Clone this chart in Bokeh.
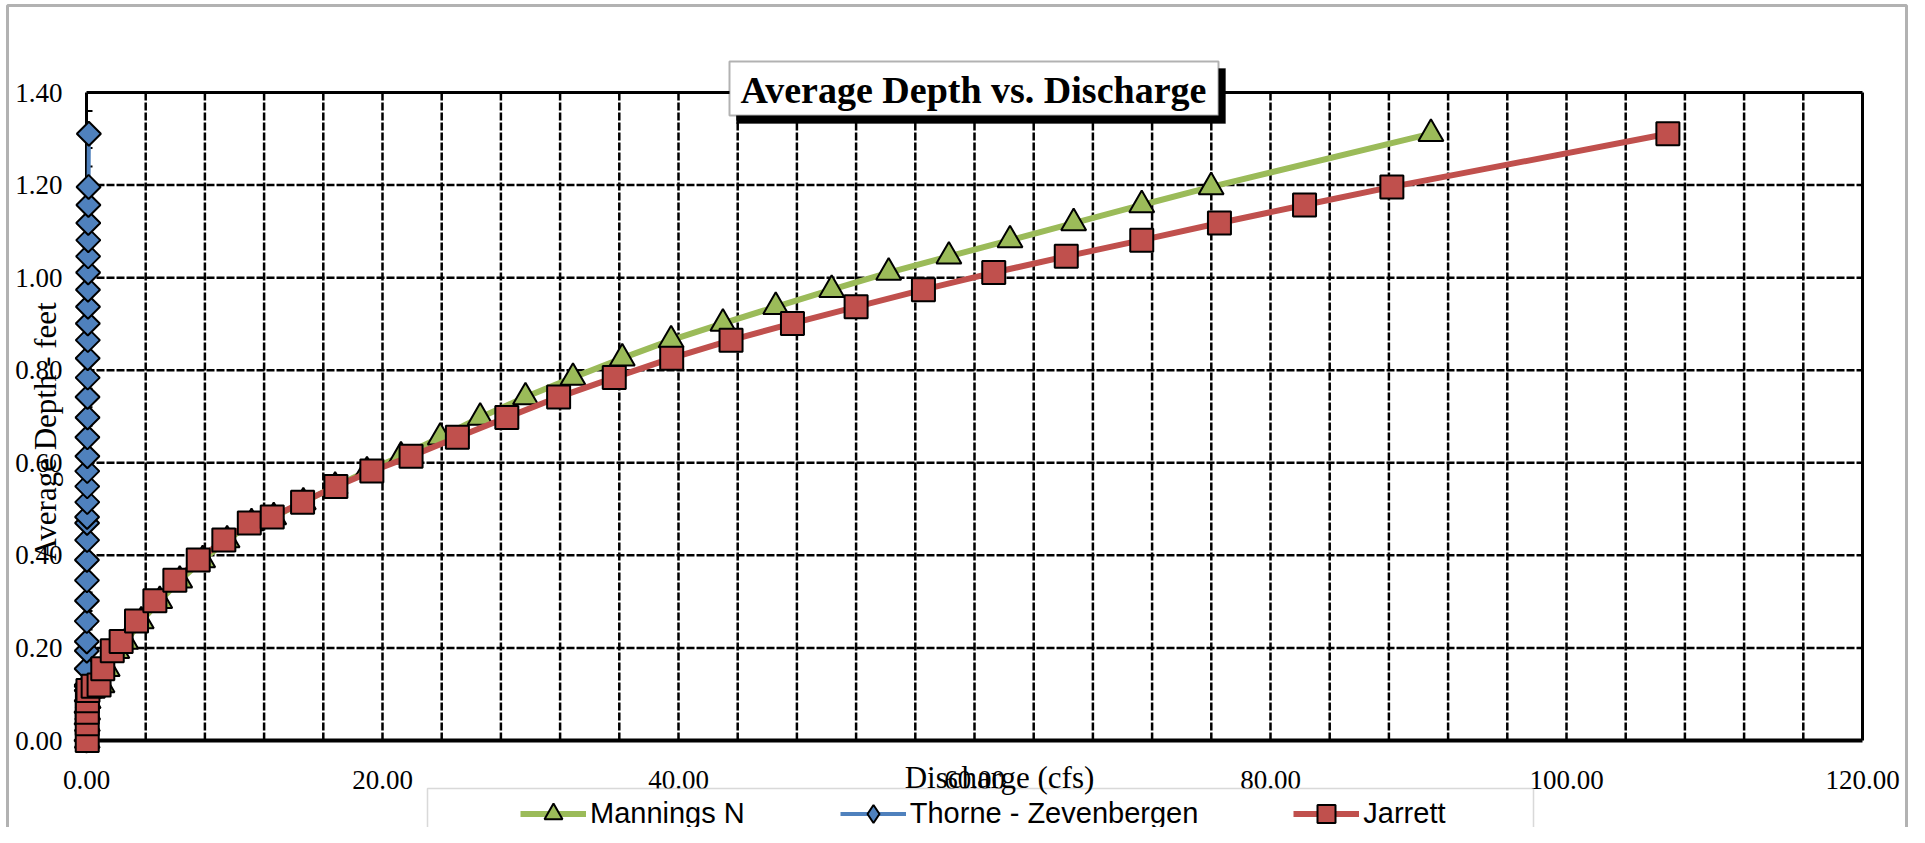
import numpy as np
from bokeh.plotting import figure
from bokeh.models import (Range1d, FixedTicker, NumeralTickFormatter, Label,
                          BoxAnnotation, Legend, LegendItem)
from bokeh.embed import file_html
from bokeh.resources import INLINE

# ---------------- data ----------------
depth = [0.000, 0.036, 0.061, 0.086, 0.108, 0.117, 0.120, 0.155, 0.194, 0.214,
         0.258, 0.302, 0.346, 0.390, 0.433, 0.470, 0.483, 0.515, 0.549, 0.582,
         0.614, 0.655, 0.698, 0.742, 0.784, 0.826, 0.865, 0.901, 0.937, 0.974,
         1.011, 1.046, 1.081, 1.118, 1.157, 1.196, 1.311]
q_mannings = [0.05, 0.06, 0.08, 0.11, 0.16, 0.60, 1.05, 1.40, 2.05, 2.65,
              3.70, 4.95, 6.30, 7.85, 9.50, 11.15, 12.65, 14.65, 16.80, 18.95,
              21.25, 23.90, 26.60, 29.66, 32.87, 36.20, 39.50, 43.00, 46.57, 50.35,
              54.20, 58.27, 62.40, 66.70, 71.30, 75.99, 90.84]
q_thorne = [0.00, 0.00, 0.00, 0.01, 0.01, 0.01, 0.01, 0.01, 0.02, 0.02,
            0.02, 0.03, 0.03, 0.03, 0.04, 0.04, 0.04, 0.05, 0.05, 0.05,
            0.06, 0.06, 0.07, 0.07, 0.08, 0.08, 0.09, 0.09, 0.10, 0.10,
            0.11, 0.11, 0.12, 0.12, 0.13, 0.14, 0.16]
q_jarrett = [0.05, 0.05, 0.05, 0.06, 0.10, 0.45, 0.85, 1.10, 1.74, 2.34,
             3.38, 4.62, 5.97, 7.55, 9.28, 11.00, 12.55, 14.60, 16.85, 19.28,
             21.93, 25.06, 28.40, 31.90, 35.66, 39.54, 43.55, 47.70, 52.00, 56.55,
             61.30, 66.20, 71.30, 76.55, 82.30, 88.20, 106.85]
series_names = ["Mannings N", "Thorne - Zevenbergen", "Jarrett"]
x_ticks = [0, 20, 40, 60, 80, 100, 120]
y_ticks = [0.0, 0.2, 0.4, 0.6, 0.8, 1.0, 1.2, 1.4]
x_grid_step = 4
title_text = "Average Depth vs. Discharge"
x_label = "Discharge (cfs)"
y_label = "Average Depth - feet"

# ---------------- layout geometry (picture pixels) ----------------
W, H = 1909, 827
OX, OY = 0, 0            # picture offset of the canvas
PX0, PX1 = 86, 1862      # picture x of Q=0 and Q=120
PY0, PY1 = 740, 92       # picture y of D=0 and D=1.4
XMAX, YMAX = 120.0, 1.4
SX = (PX1 - PX0) / XMAX
SY = (PY0 - PY1) / YMAX

def dx(px):
    return (px - PX0) / SX

def dy(py):
    return (PY0 - py) / SY

# the frame covers the whole canvas so that nothing is clipped
p = figure(width=W, height=H, output_backend="svg", toolbar_location=None,
           x_range=Range1d(dx(OX), dx(OX + W)),
           y_range=Range1d(dy(OY + H), dy(OY)),
           min_border=0)
p.outline_line_color = None
p.xgrid.visible = False
p.ygrid.visible = False
p.background_fill_color = "white"
p.border_fill_color = "white"

for ax in (p.xaxis, p.yaxis):
    ax.fixed_location = 0
    ax.axis_line_color = None
    ax.major_tick_line_color = None
    ax.minor_tick_line_color = None
    ax.major_tick_out = 0
    ax.major_tick_in = 0
    ax.minor_tick_out = 0
    ax.minor_tick_in = 0
    ax.formatter = NumeralTickFormatter(format="0.00")
    ax.major_label_text_font = "Liberation Serif"
    ax.major_label_text_font_size = "27px"
    ax.major_label_text_color = "black"
p.xaxis.ticker = FixedTicker(ticks=x_ticks)
p.yaxis.ticker = FixedTicker(ticks=y_ticks)
p.xaxis.bounds = (0, XMAX)
p.yaxis.bounds = (0, YMAX)
p.xaxis.major_label_standoff = 30
p.yaxis.major_label_standoff = 24

# grid lines (dashed black)
gx = [v for v in range(x_grid_step, int(XMAX), x_grid_step)]
p.segment(x0=gx, y0=[0] * len(gx), x1=gx, y1=[YMAX] * len(gx),
          line_color="black", line_width=2.5, line_dash="8 2")
gy = y_ticks[1:-1]
p.segment(x0=[0] * len(gy), y0=gy, x1=[XMAX] * len(gy), y1=gy,
          line_color="black", line_width=2.5, line_dash="8 2")
# minor ticks on the y axis (inside)
ym = [round(i * 0.04, 2) for i in range(1, 35) if i % 5]
p.segment(x0=[0] * len(ym), y0=ym, x1=[6 / SX] * len(ym), y1=ym,
          line_color="black", line_width=2)
# plot-area border
p.segment(x0=[0, 0, XMAX], y0=[0, YMAX, 0], x1=[0, XMAX, XMAX], y1=[YMAX, YMAX, YMAX],
          line_color="black", line_width=3)
p.segment(x0=[0], y0=[0], x1=[XMAX], y1=[0], line_color="black", line_width=4)

GREEN, BLUE, RED = "#9BBB59", "#4F81BD", "#C0504D"
l1 = p.line(q_mannings, depth, line_color=GREEN, line_width=6)
s1 = p.scatter(q_mannings, depth, marker="triangle", size=25, fill_color=GREEN,
               line_color="black", line_width=2)
l2 = p.line(q_thorne, depth, line_color=BLUE, line_width=4)
# diamond key used by the legend (lies under the rotated squares below)
k2 = p.scatter(q_thorne, depth, marker="diamond", size=18, fill_color=BLUE,
               line_color="black", line_width=2)
s2 = p.scatter(q_thorne, depth, marker="square", angle=np.pi / 4, size=17,
               fill_color=BLUE, line_color="black", line_width=2)
l3 = p.line(q_jarrett, depth, line_color=RED, line_width=6)
s3 = p.scatter(q_jarrett, depth, marker="square", size=23, fill_color=RED,
               line_color="black", line_width=2)

# outer chart border
p.add_layout(BoxAnnotation(left=dx(7), right=dx(1906), top=dy(5), bottom=dy(900),
                           fill_alpha=0, line_color="black", line_width=3))

# legend box + legend
p.add_layout(BoxAnnotation(left=dx(427), right=dx(1533), top=dy(788), bottom=dy(840),
                           fill_color="white", fill_alpha=1, line_color="#808080",
                           line_width=1.5))
legend = Legend(items=[LegendItem(label=series_names[0], renderers=[l1, s1]),
                       LegendItem(label=series_names[1], renderers=[l2, k2]),
                       LegendItem(label=series_names[2], renderers=[l3, s3])],
                location=(520 - OX, (OY + H) - 835.5),
                orientation="horizontal", glyph_width=66, glyph_height=45,
                label_standoff=4, spacing=95, padding=0, margin=0,
                border_line_alpha=0, background_fill_alpha=0,
                label_text_font="Liberation Sans", label_text_font_size="29px",
                label_text_color="black")
p.add_layout(legend, "center")

# title box with shadow
p.add_layout(BoxAnnotation(left=dx(736), right=dx(1225), top=dy(68), bottom=dy(123),
                           fill_color="black", fill_alpha=1, line_color="black",
                           line_width=1))
p.add_layout(BoxAnnotation(left=dx(729), right=dx(1218), top=dy(61), bottom=dy(115),
                           fill_color="white", fill_alpha=1, line_color="black",
                           line_width=2))
p.add_layout(Label(x=dx(973), y=dy(89), text=title_text, text_align="center",
                   text_baseline="middle", text_font="Liberation Serif",
                   text_font_size="38px", text_font_style="bold", text_color="black"))

# axis titles
p.add_layout(Label(x=dx(999), y=dy(777), text=x_label, text_align="center",
                   text_baseline="middle", text_font="Liberation Serif",
                   text_font_size="31px", text_color="black"))
p.add_layout(Label(x=dx(45), y=dy(431), text=y_label, angle=np.pi / 2,
                   text_align="center", text_baseline="middle",
                   text_font="Liberation Serif", text_font_size="31px",
                   text_color="black"))

open("out.html", "w").write(file_html(p, INLINE))
